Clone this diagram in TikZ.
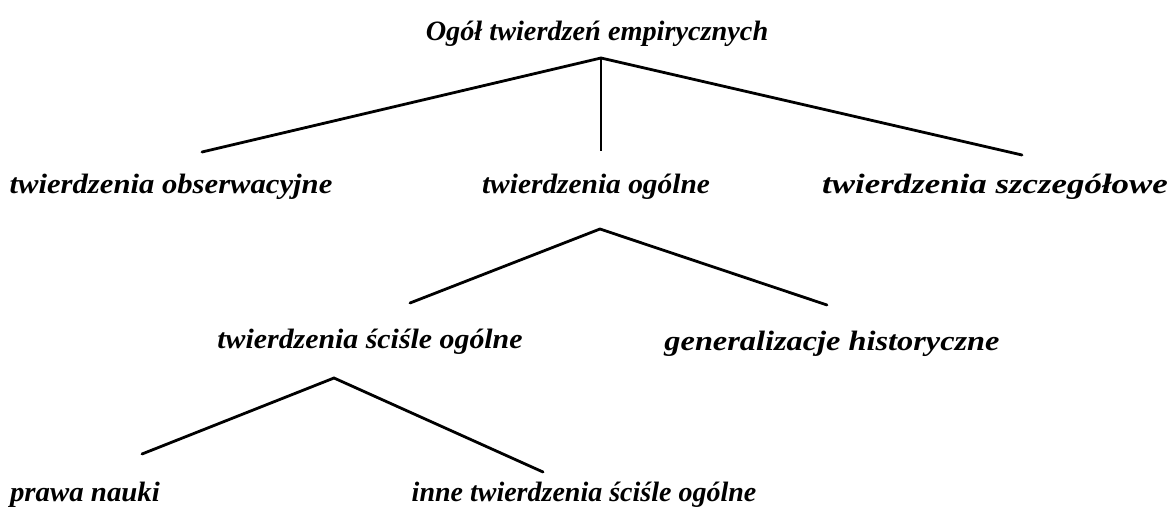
\documentclass[tikz,border=0pt]{standalone}
\usepackage{fontspec}
\setmainfont{Liberation Serif}
\begin{document}
\begin{tikzpicture}[x=1pt,y=-1pt,
  lbl/.style={font=\fontsize{28}{32}\selectfont\bfseries\itshape, inner sep=0pt},
  edge/.style={line width=2.8pt, line cap=round},
  stem/.style={line width=1.6pt}]
\useasboundingbox (0,0) rectangle (1174,513);
\node[lbl] (root) at (597,34) {\scalebox{1.01}[1]{Ogół twierdzeń empirycznych}};
\node[lbl] (obs) at (171,187) {\scalebox{1.095}[1]{twierdzenia obserwacyjne}};
\node[lbl] (og) at (596,187) {\scalebox{1.05}[1]{twierdzenia ogólne}};
\node[lbl] (szcz) at (995,187) {\scalebox{1.245}[1]{twierdzenia szczegółowe}};
\node[lbl] (scis) at (370,342) {\scalebox{1.066}[1]{twierdzenia ściśle ogólne}};
\node[lbl] (gen) at (832,344) {\scalebox{1.155}[1]{generalizacje historyczne}};
\node[lbl] (prawa) at (85,495) {\scalebox{1.03}[1]{prawa nauki}};
\node[lbl] (inne) at (584,495) {\scalebox{1.0}[1]{inne twierdzenia ściśle ogólne}};
% junction and end points of the connectors
\coordinate (rootJ) at (601,58);
\coordinate (obsT) at (202,152);
\coordinate (ogT) at (601,151);
\coordinate (szczT) at (1022,155);
\coordinate (ogJ) at (600,229);
\coordinate (scisT) at (410,303);
\coordinate (genT) at (827,305);
\coordinate (scisJ) at (334,378);
\coordinate (prawaT) at (142,454);
\coordinate (inneT) at (543,472);
\draw[edge] (obsT) -- (rootJ) -- (szczT);
\draw[stem] (rootJ) -- (ogT);
\draw[edge] (scisT) -- (ogJ) -- (genT);
\draw[edge] (prawaT) -- (scisJ) -- (inneT);
\end{tikzpicture}
\end{document}
